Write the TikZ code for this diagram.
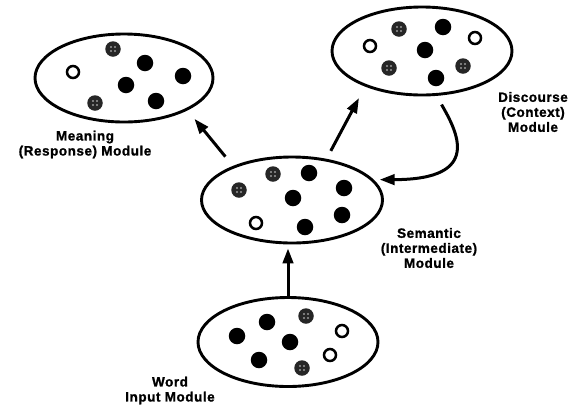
\documentclass[tikz,border=0pt]{standalone}
\usepackage{fontspec}
\setmainfont{Liberation Sans}[LetterSpace=4, BoldFeatures={FakeBold=1.2}]
\usetikzlibrary{shapes.geometric,arrows.meta}
\begin{document}
\begin{tikzpicture}[x=1pt,y=-1pt,
  module/.style={ellipse, draw, line width=2.9pt, inner sep=0pt},
  bdot/.style={circle, fill=black, minimum size=16.5pt, inner sep=0pt},
  odot/.style={circle, draw, line width=2.5pt, fill=white, minimum size=12pt, inner sep=0pt},
  hdot/.style={circle, fill=black!85, minimum size=15.5pt, inner sep=0pt,
    path picture={\foreach \a in {45,135,225,315}{\fill[black!40] (path picture bounding box.center) ++(\a:2.8pt) circle (1.1pt);}}},
  lbl/.style={font=\fontsize{13.5}{15}\selectfont\bfseries, align=center, inner sep=0pt},
  arr/.style={line width=3pt, -{Triangle[length=15pt,width=10.5pt]}}]
\useasboundingbox (0,0) rectangle (586,413);

% modules
\node[module, minimum width=178pt, minimum height=88pt] (meaning) at (124,78) {};
\node[module, minimum width=180pt, minimum height=88pt] (discourse) at (422,51) {};
\node[module, minimum width=181pt, minimum height=86pt] (semantic) at (292,200) {};
\node[module, minimum width=180pt, minimum height=89pt] (word) at (288,342) {};

% meaning dots
\node[odot] (m1) at (73,72) {};
\node[hdot] (m2) at (113,49) {};
\node[bdot] (m3) at (145,63) {};
\node[bdot] (m4) at (183,76) {};
\node[bdot] (m5) at (126,85) {};
\node[hdot] (m6) at (95,103) {};
\node[bdot] (m7) at (156,101) {};

% discourse dots
\node[odot] (d1) at (370,46) {};
\node[hdot] (d2) at (399,29) {};
\node[bdot] (d3) at (443,27) {};
\node[odot] (d4) at (475,38) {};
\node[bdot] (d5) at (425,50) {};
\node[hdot] (d6) at (389,68) {};
\node[bdot] (d7) at (436,78) {};
\node[hdot] (d8) at (463,66) {};

% semantic dots
\node[hdot] (s1) at (239,190) {};
\node[hdot] (s2) at (273,174) {};
\node[bdot] (s3) at (309,173) {};
\node[bdot] (s4) at (344,188) {};
\node[bdot] (s5) at (293,198) {};
\node[odot] (s6) at (256,223) {};
\node[bdot] (s7) at (305,227) {};
\node[bdot] (s8) at (342,215) {};

% word dots
\node[bdot] (w1) at (237,336) {};
\node[bdot] (w2) at (267,322) {};
\node[hdot] (w3) at (306,316) {};
\node[bdot] (w4) at (290,342) {};
\node[odot] (w5) at (342,331) {};
\node[bdot] (w6) at (259,360) {};
\node[odot] (w7) at (330,355) {};
\node[hdot] (w8) at (302,368) {};

% labels
\node[lbl] (lmeaning) at (85,144.5) {Meaning\\(Response) Module};
\node[lbl] (ldiscourse) at (533,112) {Discourse\\(Context)\\Module};
\node[lbl] (lsemantic) at (429,248) {Semantic\\(Intermediate)\\Module};
\node[lbl] (lword) at (170,390.5) {Word\\Input Module};

% connectors
\draw[arr, shorten <=12pt, shorten >=11pt] (semantic.150) -- (meaning.-27);
\draw[arr, shorten <=9pt, shorten >=13pt] (semantic.50) -- (discourse.-148);
\draw[arr, shorten >=4pt] (word.north) -- (word.north |- semantic.south);
\draw[arr, shorten <=10pt, shorten >=6pt] (discourse.-72) .. controls +(20,35) and +(110,0) .. (semantic.14);
\end{tikzpicture}
\end{document}
